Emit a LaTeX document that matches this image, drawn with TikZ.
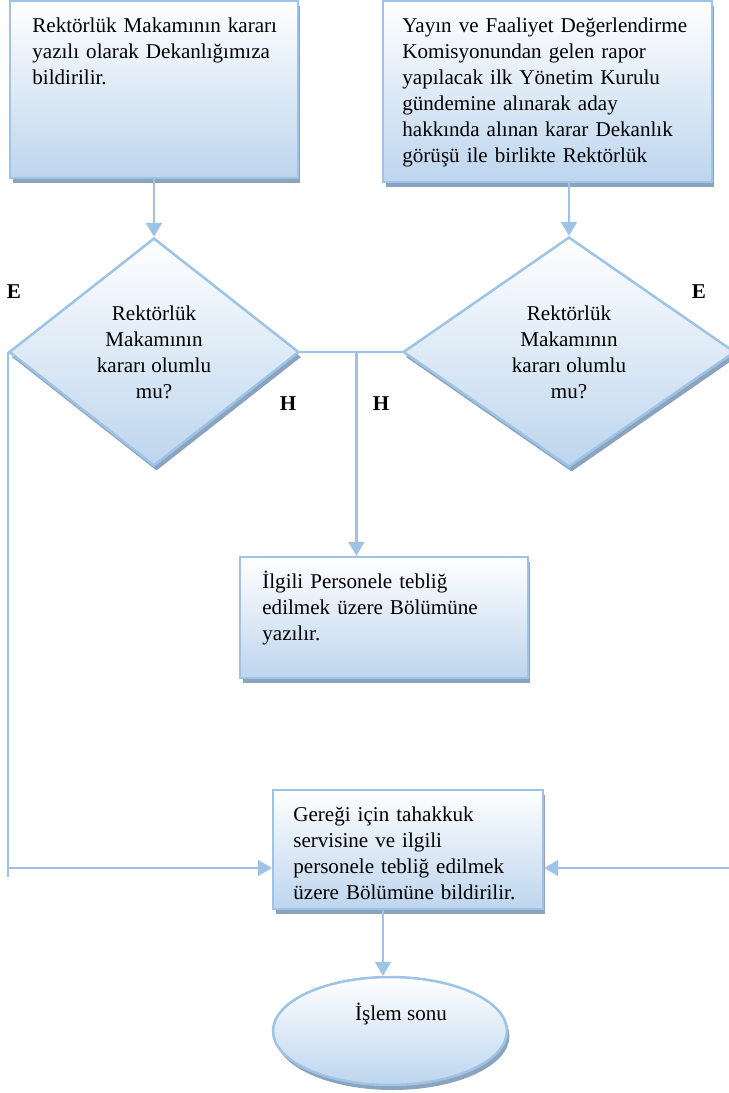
\documentclass[tikz,border=0pt]{standalone}
\usepackage{fontspec}
\setmainfont{Liberation Serif}
\usetikzlibrary{shapes.geometric,shadows,arrows.meta,calc}
\definecolor{kenar}{RGB}{157,195,230}
\definecolor{dolgu}{RGB}{189,213,238}
\definecolor{golge}{RGB}{140,163,190}
\tikzset{
  kutu/.style={draw=kenar,line width=0.05cm,top color=white,bottom color=dolgu,inner sep=0pt,
    drop shadow={fill=golge,opacity=1,shadow xshift=0.05cm,shadow yshift=-0.1cm}},
  karar/.style={kutu,diamond,align=center,font=\fontsize{12}{14.8}\selectfont},
  yazi/.style={text width=7cm,align=left,inner sep=0pt,anchor=base west,font=\fontsize{12}{14.8}\selectfont},
  orta/.style={inner sep=0pt,anchor=base,font=\fontsize{12}{14.8}\selectfont},
  harf/.style={orta,font=\fontsize{12}{14.8}\selectfont\bfseries},
  cizgi/.style={draw=kenar,line width=0.05cm},
  ok/.style={cizgi,-{Triangle[length=0.28cm,width=0.32cm]}}
}
\begin{document}
\begin{tikzpicture}[x=0.02cm,y=-0.02cm]
			\useasboundingbox (0,0) rectangle (728,1093);
			\node[kutu,minimum width=5.76cm,minimum height=3.54cm] (1)at(154,89.5) {};
			\node[kutu,minimum width=6.58cm,minimum height=3.62cm] (2)at(547.5,91.5) {};
			\node[karar,minimum width=5.8cm,minimum height=4.56cm] (3)at(154,352) {Rektörlük\\Makamının\\kararı olumlu\\mu?};
			\node[karar,minimum width=6.64cm,minimum height=4.6cm] (4)at(569,352) {Rektörlük\\Makamının\\kararı olumlu\\mu?};
			\node[kutu,minimum width=5.76cm,minimum height=2.42cm] (5)at(384,617.5) {};
			\node[kutu,minimum width=5.4cm,minimum height=2.38cm] (6)at(408,849.5) {};
			\node[kutu,ellipse,minimum width=4.68cm,minimum height=2.16cm] (7)at(390,1031) {};
			
			\node[yazi] (t1)at(32,32) {Rektörlük Makamının kararı\\yazılı olarak Dekanlığımıza\\bildirilir.};
			\node[yazi] (t2)at(402,32) {Yayın ve Faaliyet Değerlendirme\\Komisyonundan gelen rapor\\yapılacak ilk Yönetim Kurulu\\gündemine alınarak aday\\hakkında alınan karar Dekanlık\\görüşü ile birlikte Rektörlük};
			\node[yazi] (t3)at(262,588) {İlgili Personele tebliğ\\edilmek üzere Bölümüne\\yazılır.};
			\node[yazi] (t4)at(293,821) {Gereği için tahakkuk\\servisine ve ilgili\\personele tebliğ edilmek\\üzere Bölümüne bildirilir.};
			\node[orta] (t5)at(401,1020) {İşlem sonu};
			
			\node[harf] (e1)at(14,298) {E};
			\node[harf] (e2)at(699,298) {E};
			\node[harf] (h1)at(288,410) {H};
			\node[harf] (h2)at(381,410) {H};
			
			\draw[ok] (1) -- (3);
			\draw[ok] (2.south -| 4.north) -- (4.north);
			\draw[cizgi] (3.east) -- (4.west);
			\coordinate (j)at($(3.east)!0.553!(4.west)$);
			\draw[ok] (j) -- (j |- 5.north);
			\draw[cizgi] (3.west) -- ++(0,525);
			\draw[ok] (3.west) |- ($(6.west)+(0,18.5)$);
			\draw[ok] (4.east) |- ($(6.east)+(0,18.5)$);
			\coordinate (k)at($(6.south)+(-25,0)$);
			\draw[ok] (k) -- (k |- 7.north);
		\end{tikzpicture}
\end{document}
